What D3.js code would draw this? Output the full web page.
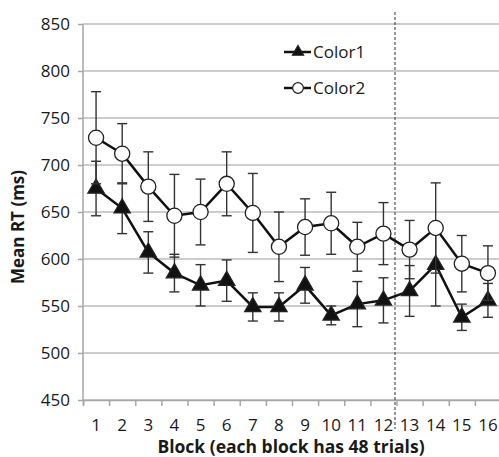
<!DOCTYPE html>
<html>
<head>
<meta charset="utf-8">
<script src="https://cdn.jsdelivr.net/npm/d3@7"></script>
<style>
  body { margin: 0; background: #fff; }
  svg text { font-family: "Open Sans", sans-serif; fill: #1a1a1a; }
</style>
</head>
<body>
<div id="graph"></div>
<script>
const width = 499;
const height = 457;
const margin = { top: 24, bottom: 57, left: 83, right: -2 };

const blocks = [1, 2, 3, 4, 5, 6, 7, 8, 9, 10, 11, 12, 13, 14, 15, 16];
const yTicks = [450, 500, 550, 600, 650, 700, 750, 800, 850];

// Color1 (filled triangles)
const color1Mean = [675, 654, 607, 585, 572, 577, 549, 549, 572, 540, 552, 556, 566, 594, 538, 556];
const color1Err = [29, 27, 22, 20, 22, 22, 15, 15, 19, 10, 24, 24, 27, 44, 14, 18];
// Color2 (open circles)
const color2Mean = [729, 712, 677, 646, 650, 680, 649, 613, 634, 638, 613, 627, 610, 633, 595, 585];
const color2Err = [49, 32, 37, 44, 35, 34, 42, 37, 30, 33, 26, 33, 31, 48, 30, 29];

const series = [
  { name: "Color1", mean: color1Mean, err: color1Err, symbol: d3.symbolTriangle },
  { name: "Color2", mean: color2Mean, err: color2Err, symbol: d3.symbolCircle },
];

const svg = d3
  .select("#graph")
  .append("svg")
  .attr("width", width)
  .attr("height", height);

const x = d3
  .scaleBand()
  .domain(blocks)
  .range([margin.left, width - margin.right]);
const xEdge = d3
  .scaleLinear()
  .domain([0, blocks.length])
  .range([margin.left, width - margin.right]);
const y = d3
  .scaleLinear()
  .domain([450, 850])
  .range([height - margin.bottom, margin.top]);

// Gridlines
svg
  .append("g")
  .selectAll("line")
  .data(yTicks)
  .enter()
  .append("line")
  .attr("x1", margin.left)
  .attr("x2", width - margin.right)
  .attr("y1", (d) => y(d))
  .attr("y2", (d) => y(d))
  .attr("stroke", "#bdbdbd")
  .attr("stroke-width", 1.5);

// y axis
const yAxis = d3.axisLeft(y).tickValues(yTicks).tickSize(5).tickPadding(8);
const gy = svg
  .append("g")
  .attr("transform", `translate(${margin.left}, 0)`)
  .call(yAxis);
gy.selectAll("path, line").attr("stroke", "#a6a6a6").attr("stroke-width", 1.5);
gy.select(".domain").attr("d", `M0,${y(450)}V${y(850)}`);
gy.selectAll("text").style("font-size", "17px").attr("fill", "#1a1a1a");

// x axis tick marks at block edges
const gxTicks = svg
  .append("g")
  .attr("transform", `translate(0, ${y(450)})`)
  .call(d3.axisBottom(xEdge).tickValues(d3.range(0, blocks.length + 1)).tickSize(6).tickFormat(""));
gxTicks.selectAll("path, line").attr("stroke", "#a6a6a6").attr("stroke-width", 1.5);

// x axis labels
const gx = svg
  .append("g")
  .attr("transform", `translate(0, ${y(450)})`)
  .call(d3.axisBottom(x).tickSize(0).tickPadding(19));
gx.select(".domain").remove();
gx.selectAll("text").style("font-size", "17px").attr("fill", "#1a1a1a");

// Divider between block 12 and 13
svg
  .append("line")
  .attr("x1", xEdge(12) - 1.5)
  .attr("x2", xEdge(12) - 1.5)
  .attr("y1", 12)
  .attr("y2", 429)
  .attr("stroke", "#333")
  .attr("stroke-width", 1)
  .attr("stroke-dasharray", "3,2");

const cx = (i) => x(blocks[i]) + x.bandwidth() / 2;

series.forEach((s) => {
  const g = svg.append("g");
  // error bars
  const bars = g
    .selectAll(".err")
    .data(s.mean)
    .enter()
    .append("g")
    .attr("stroke", "#333")
    .attr("stroke-width", 1.4);
  bars
    .append("line")
    .attr("x1", (d, i) => cx(i))
    .attr("x2", (d, i) => cx(i))
    .attr("y1", (d, i) => y(d - s.err[i]))
    .attr("y2", (d, i) => y(d + s.err[i]));
  bars
    .append("line")
    .attr("x1", (d, i) => cx(i) - 5)
    .attr("x2", (d, i) => cx(i) + 5)
    .attr("y1", (d, i) => y(d + s.err[i]))
    .attr("y2", (d, i) => y(d + s.err[i]));
  bars
    .append("line")
    .attr("x1", (d, i) => cx(i) - 5)
    .attr("x2", (d, i) => cx(i) + 5)
    .attr("y1", (d, i) => y(d - s.err[i]))
    .attr("y2", (d, i) => y(d - s.err[i]));

  // line
  g.append("path")
    .datum(s.mean)
    .attr("fill", "none")
    .attr("stroke", "#111")
    .attr("stroke-width", 2.5)
    .attr(
      "d",
      d3
        .line()
        .x((d, i) => cx(i))
        .y((d) => y(d))
    );

  // markers
  g.selectAll(".mark")
    .data(s.mean)
    .enter()
    .append("path")
    .attr("transform", (d, i) => `translate(${cx(i)}, ${y(d)})`)
    .attr("d", d3.symbol().type(s.symbol).size(s.name === "Color1" ? 115 : 180))
    .attr("fill", s.name === "Color1" ? "#111" : "#fff")
    .attr("stroke", "#222")
    .attr("stroke-width", 1.3);
});

// Legend
const legend = svg
  .append("g")
  .selectAll("g")
  .data(series)
  .enter()
  .append("g")
  .attr("transform", (d, i) => `translate(284, ${52 + i * 36})`);
legend
  .append("line")
  .attr("x1", 0)
  .attr("x2", 27)
  .attr("stroke", "#111")
  .attr("stroke-width", 2.5);
legend
  .append("path")
  .attr("transform", "translate(14, 0)")
  .attr("d", (d) => d3.symbol().type(d.symbol).size(d.symbol === d3.symbolTriangle ? 55 : 90)())
  .attr("fill", (d) => (d.name === "Color1" ? "#111" : "#fff"))
  .attr("stroke", "#222")
  .attr("stroke-width", 1.2);
legend
  .append("text")
  .attr("x", 29)
  .attr("dy", "0.35em")
  .style("font-size", "17px")
  .text((d) => d.name);

// Axis titles
svg
  .append("text")
  .attr("x", 291)
  .attr("y", 453)
  .attr("text-anchor", "middle")
  .style("font-size", "17.5px")
  .style("font-weight", "bold")
  .text("Block (each block has 48 trials)");

svg
  .append("text")
  .attr("transform", "translate(24, 227) rotate(-90)")
  .attr("text-anchor", "middle")
  .style("font-size", "17px")
  .style("font-weight", "bold")
  .text("Mean RT (ms)");
</script>
</body>
</html>
